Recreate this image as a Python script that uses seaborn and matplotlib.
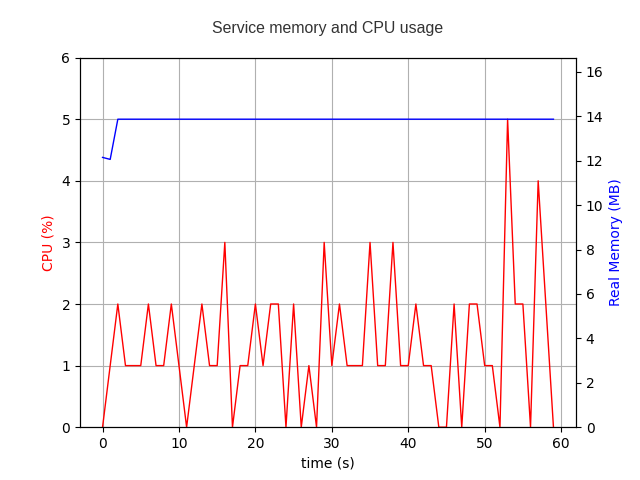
import numpy as np
import pandas as pd
import matplotlib
matplotlib.use("Agg")
import matplotlib.pyplot as plt
import seaborn as sns

# Data
time_s = list(range(60))
cpu = [0, 1, 2, 1, 1, 1, 2, 1, 1, 2,
       1, 0, 1, 2, 1, 1, 3, 0, 1, 1,
       2, 1, 2, 2, 0, 2, 0, 1, 0, 3,
       1, 2, 1, 1, 1, 3, 1, 1, 3, 1,
       1, 2, 1, 1, 0, 0, 2, 0, 2, 2,
       1, 1, 0, 5, 2, 2, 0, 4, 2, 0]
memory = [12.15, 12.06] + [13.87] * 58

df = pd.DataFrame({"time": time_s, "cpu": cpu, "memory": memory})

fig, ax1 = plt.subplots(figsize=(6.4, 4.8), dpi=100)

sns.lineplot(data=df, x="time", y="cpu", color="red", linewidth=1, ax=ax1)
ax1.set_ylim(0, 6)
ax1.set_xlabel("time (s)")
ax1.set_ylabel("CPU (%)", color="red")
ax1.grid(True, color="#b0b0b0")

ax2 = ax1.twinx()
sns.lineplot(data=df, x="time", y="memory", color="blue", linewidth=1, ax=ax2)
ax2.set_ylim(0, max(memory) * 1.2)
ax2.set_ylabel("Real Memory (MB)", color="blue")

fig.text(327.5 / 640, 1 - 29 / 480, "Service memory and CPU usage",
         ha="center", va="center", fontsize=11.4, color="#333333",
         family="Liberation Sans")

fig.savefig("out.png", dpi=100)
